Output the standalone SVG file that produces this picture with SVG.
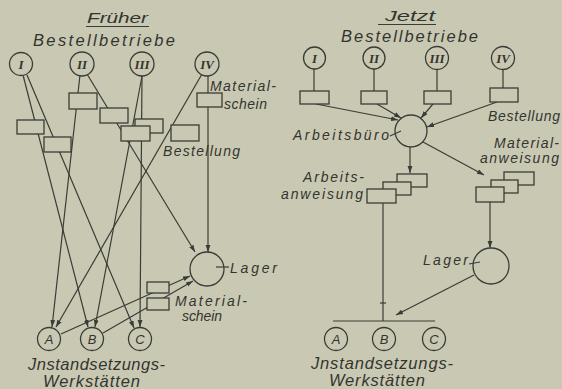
<svg xmlns="http://www.w3.org/2000/svg" width="562" height="389" viewBox="0 0 562 389">
<defs>
<style>
.bg{fill:#c9c9b3}
.ln{stroke:#3b3b37;stroke-width:1.2;fill:none}
.nd{stroke:#3b3b37;stroke-width:1.3;fill:#c9c9b3}
.t{font-family:"Liberation Sans","DejaVu Sans",sans-serif;font-style:italic;fill:#34342f}
.h{font-size:16.5px}
.s{font-size:14px}
.rn{font-family:"Liberation Serif","DejaVu Serif",serif;font-style:italic;font-weight:bold;font-size:13px;fill:#34342f;text-anchor:middle}
.lt{font-family:"Liberation Sans","DejaVu Sans",sans-serif;font-style:italic;font-size:13px;fill:#34342f;text-anchor:middle}
</style>
<marker id="arr" viewBox="0 0 10 10" refX="10" refY="5" markerWidth="7" markerHeight="7" markerUnits="userSpaceOnUse" orient="auto"><path d="M0,1.5 L10,5 L0,8.5 z" fill="#3b3b37"/></marker>
</defs>
<rect class="bg" x="0" y="0" width="562" height="389"/>

<g id="connectors">
<!-- left panel -->
<line class="ln" x1="23" y1="75" x2="88" y2="327" marker-end="url(#arr)"/>
<line class="ln" x1="27" y1="75" x2="134" y2="328" marker-end="url(#arr)"/>
<line class="ln" x1="80" y1="75" x2="52" y2="327" marker-end="url(#arr)"/>
<line class="ln" x1="87" y1="74" x2="195" y2="252" marker-end="url(#arr)"/>
<line class="ln" x1="142" y1="76" x2="95" y2="327" marker-end="url(#arr)"/>
<line class="ln" x1="142" y1="76" x2="140" y2="327" marker-end="url(#arr)"/>
<line class="ln" x1="202" y1="74" x2="56" y2="327" marker-end="url(#arr)"/>
<line class="ln" x1="208" y1="76" x2="208" y2="252" marker-end="url(#arr)"/>
<line class="ln" x1="61" y1="334" x2="190" y2="276" marker-end="url(#arr)"/>
<line class="ln" x1="103" y1="333" x2="193" y2="281" marker-end="url(#arr)"/>
<!-- right panel -->
<line class="ln" x1="314" y1="69" x2="314" y2="91"/>
<line class="ln" x1="374" y1="69" x2="374" y2="91"/>
<line class="ln" x1="437" y1="69" x2="437" y2="91"/>
<line class="ln" x1="503" y1="69" x2="503" y2="88"/>
<line class="ln" x1="316" y1="104" x2="398" y2="120" marker-end="url(#arr)"/>
<line class="ln" x1="377" y1="104" x2="401" y2="118" marker-end="url(#arr)"/>
<line class="ln" x1="433" y1="104" x2="421" y2="118" marker-end="url(#arr)"/>
<line class="ln" x1="497" y1="102" x2="427" y2="127" marker-end="url(#arr)"/>
<line class="ln" x1="410" y1="147" x2="410" y2="173" marker-end="url(#arr)"/>
<line class="ln" x1="423" y1="142" x2="484" y2="175" marker-end="url(#arr)"/>
<line class="ln" x1="490" y1="202" x2="490" y2="248" marker-end="url(#arr)"/>
<line class="ln" x1="383" y1="203" x2="383" y2="321"/>
<line class="ln" x1="380" y1="303" x2="386" y2="303"/>
<line class="ln" x1="333" y1="321" x2="435" y2="321"/>
<line class="ln" x1="474" y1="275" x2="396" y2="315" marker-end="url(#arr)"/>
</g>

<!-- left panel nodes -->
<g id="L-title">
<text class="t" x="87" y="23" font-size="15" textLength="61" lengthAdjust="spacingAndGlyphs">Früher</text>
<line class="ln" x1="86" y1="26.5" x2="149" y2="26.5"/>
<text class="t h" x="33" y="46" textLength="142" lengthAdjust="spacing">Bestellbetriebe</text>
</g>
<g id="L-I"><circle class="nd" cx="21" cy="64" r="11.5"/><text class="rn" x="21" y="68.5">I</text></g>
<g id="L-II"><circle class="nd" cx="82" cy="64" r="12"/><text class="rn" x="82" y="68.5">II</text></g>
<g id="L-III"><circle class="nd" cx="142" cy="64" r="12"/><text class="rn" x="142" y="68.5">III</text></g>
<g id="L-IV"><circle class="nd" cx="207" cy="64" r="12"/><text class="rn" x="207" y="68.5">IV</text></g>
<g id="L-box-I1"><rect class="nd" x="17" y="120" width="27" height="14"/></g>
<g id="L-box-I2"><rect class="nd" x="44" y="137" width="27" height="15"/></g>
<g id="L-box-II1"><rect class="nd" x="69" y="93" width="28" height="16"/></g>
<g id="L-box-II2"><rect class="nd" x="100" y="108" width="28" height="15"/></g>
<g id="L-box-III1"><rect class="nd" x="135" y="119" width="28" height="14"/></g>
<g id="L-box-III2"><rect class="nd" x="121" y="126" width="29" height="15"/></g>
<g id="L-box-IV1"><rect class="nd" x="197" y="93" width="25" height="14"/>
<text class="t s" x="210" y="91" textLength="66" lengthAdjust="spacing">Material-</text>
<text class="t s" x="224" y="109" textLength="43" lengthAdjust="spacing">schein</text></g>
<g id="L-box-IV2"><rect class="nd" x="171" y="125" width="28" height="16"/>
<text class="t s" x="163" y="156" textLength="77" lengthAdjust="spacing">Bestellung</text></g>
<g id="L-lager"><circle class="nd" cx="207" cy="269" r="17"/>
<line class="ln" x1="216" y1="267" x2="229" y2="267"/>
<text class="t s" x="230" y="273" textLength="47" lengthAdjust="spacing">Lager</text></g>
<g id="L-ms1"><rect class="nd" x="147" y="282" width="22" height="11"/></g>
<g id="L-ms2"><rect class="nd" x="147" y="298" width="22" height="12"/>
<text class="t s" x="175" y="306" textLength="72" lengthAdjust="spacing">Material-</text>
<text class="t s" x="182" y="321" textLength="40" lengthAdjust="spacing">schein</text></g>
<g id="L-A"><circle class="nd" cx="49" cy="339" r="11.5"/><text class="lt" x="49" y="343.5">A</text></g>
<g id="L-B"><circle class="nd" cx="92" cy="339" r="11.5"/><text class="lt" x="92" y="343.5">B</text></g>
<g id="L-C"><circle class="nd" cx="140" cy="339" r="11.5"/><text class="lt" x="140" y="343.5">C</text></g>
<g id="L-werk">
<text class="t h" x="28" y="370" textLength="137" lengthAdjust="spacing">Jnstandsetzungs-</text>
<text class="t h" x="43" y="387" textLength="97" lengthAdjust="spacing">Werkstätten</text></g>

<!-- right panel nodes -->
<g id="R-title">
<text class="t" x="385" y="21" font-size="15" textLength="50" lengthAdjust="spacingAndGlyphs">Jetzt</text>
<line class="ln" x1="378" y1="24.5" x2="436" y2="24.5"/>
<text class="t h" x="341" y="42" textLength="137" lengthAdjust="spacing">Bestellbetriebe</text>
</g>
<g id="R-I"><circle class="nd" cx="314.5" cy="58" r="11"/><text class="rn" x="314.5" y="62.5">I</text></g>
<g id="R-II"><circle class="nd" cx="374" cy="58" r="11"/><text class="rn" x="374" y="62.5">II</text></g>
<g id="R-III"><circle class="nd" cx="437" cy="58" r="11.5"/><text class="rn" x="437" y="62.5">III</text></g>
<g id="R-IV"><circle class="nd" cx="503" cy="58" r="11.5"/><text class="rn" x="503" y="62.5">IV</text></g>
<g id="R-box-I"><rect class="nd" x="300" y="91" width="29" height="13"/></g>
<g id="R-box-II"><rect class="nd" x="361" y="91" width="26" height="13"/></g>
<g id="R-box-III"><rect class="nd" x="424" y="91" width="27" height="13"/></g>
<g id="R-box-IV"><rect class="nd" x="490" y="88" width="28" height="14"/>
<text class="t s" x="488" y="121" textLength="72" lengthAdjust="spacing">Bestellung</text></g>
<g id="R-buero"><circle class="nd" cx="411" cy="131" r="16"/>
<text class="t s" x="293" y="140" textLength="96" lengthAdjust="spacing">Arbeitsbüro</text>
<line class="ln" x1="390" y1="136" x2="401" y2="131"/></g>
<g id="R-arbeitsanweisung">
<rect class="nd" x="397" y="174" width="30" height="13"/>
<rect class="nd" x="383" y="182" width="28" height="13"/>
<rect class="nd" x="367" y="189" width="29" height="14"/>
<text class="t s" x="303" y="182" textLength="61" lengthAdjust="spacing">Arbeits-</text>
<text class="t s" x="281" y="199" textLength="82" lengthAdjust="spacing">anweisung</text></g>
<g id="R-materialanweisung">
<rect class="nd" x="504" y="172" width="30" height="13"/>
<rect class="nd" x="491" y="180" width="27" height="13"/>
<rect class="nd" x="476" y="187" width="28" height="15"/>
<text class="t s" x="494" y="148" textLength="65" lengthAdjust="spacing">Material-</text>
<text class="t s" x="480" y="163" textLength="79" lengthAdjust="spacing">anweisung</text></g>
<g id="R-lager"><circle class="nd" cx="491" cy="266" r="18"/>
<line class="ln" x1="469" y1="264" x2="480" y2="262"/>
<text class="t s" x="423" y="265" textLength="45" lengthAdjust="spacing">Lager</text></g>
<g id="R-A"><circle class="nd" cx="336" cy="339" r="11.5"/><text class="lt" x="336" y="343.5">A</text></g>
<g id="R-B"><circle class="nd" cx="384" cy="339" r="11.5"/><text class="lt" x="384" y="343.5">B</text></g>
<g id="R-C"><circle class="nd" cx="434" cy="339" r="11.5"/><text class="lt" x="434" y="343.5">C</text></g>
<g id="R-werk">
<text class="t h" x="311" y="369" textLength="142" lengthAdjust="spacing">Jnstandsetzungs-</text>
<text class="t h" x="329" y="386" textLength="96" lengthAdjust="spacing">Werkstätten</text></g>
</svg>
